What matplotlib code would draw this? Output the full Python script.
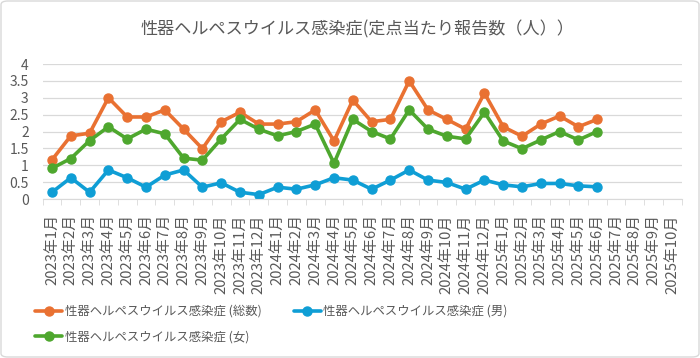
import matplotlib
matplotlib.use("Agg")
import matplotlib.pyplot as plt
from matplotlib.patches import FancyBboxPatch

plt.rcParams['font.family'] = ['Noto Sans CJK JP', 'DejaVu Sans']

months = [f"{y}年{m}月" for y in (2023, 2024, 2025) for m in range(1, 13)][:34]

total = [1.16, 1.87, 1.95, 3.0, 2.43, 2.43, 2.64, 2.07, 1.49, 2.29, 2.57, 2.22,
         2.22, 2.29, 2.64, 1.72, 2.93, 2.29, 2.36, 3.5, 2.64, 2.36, 2.07, 3.14,
         2.14, 1.86, 2.22, 2.46, 2.14, 2.36]
male = [0.2, 0.63, 0.2, 0.86, 0.63, 0.35, 0.71, 0.86, 0.35, 0.48, 0.2, 0.13,
        0.35, 0.29, 0.42, 0.63, 0.56, 0.29, 0.56, 0.86, 0.56, 0.49, 0.29, 0.56,
        0.42, 0.36, 0.46, 0.46, 0.39, 0.36]
female = [0.91, 1.2, 1.73, 2.14, 1.78, 2.07, 1.93, 1.21, 1.15, 1.78, 2.36, 2.07,
          1.87, 2.0, 2.22, 1.06, 2.36, 2.0, 1.78, 2.64, 2.07, 1.86, 1.78, 2.57,
          1.72, 1.49, 1.75, 2.0, 1.75, 2.0]

labels = ["性器ヘルペスウイルス感染症 (総数)", "性器ヘルペスウイルス感染症 (男)", "性器ヘルペスウイルス感染症 (女)"]
colors = ["#E97132", "#0F9ED5", "#4EA72E"]
title = "性器ヘルペスウイルス感染症(定点当たり報告数（人））"

W, H = 700, 358
fig = plt.figure(figsize=(W/100, H/100), dpi=100)
fig.patches.append(FancyBboxPatch((1/W, 1/H), 1 - 2/W, 1 - 2/H, boxstyle="round,pad=0,rounding_size=0.01",
                                  transform=fig.transFigure, fill=False, edgecolor="#D9D9D9", linewidth=1))

ax = fig.add_axes([42.6/W, 1 - 199/H, (681.8-42.6)/W, (199-64)/H])
x = list(range(len(months)))
handles = []
for data, c, lab in [(total, colors[0], labels[0]), (male, colors[1], labels[1]), (female, colors[2], labels[2])]:
    h, = ax.plot(x[:len(data)], data, color=c, lw=2.6, marker='o', ms=6.5, label=lab, solid_capstyle='round')
    handles.append(h)

ax.set_xlim(-0.5, len(months) - 0.5)
ax.set_ylim(0, 4)
ax.set_yticks([0, 0.5, 1, 1.5, 2, 2.5, 3, 3.5, 4])
ax.set_yticklabels(["0", "0.5", "1", "1.5", "2", "2.5", "3", "3.5", "4"])
ax.set_xticks(x)
ax.set_xticklabels(months, rotation=90, fontsize=10.7, color="#595959")
ax.set_xticks([i - 0.5 for i in range(len(months) + 1)], minor=True)
ax.tick_params(axis='x', which='major', length=0, pad=11)
ax.tick_params(axis='x', which='minor', length=4, color="#D9D9D9")
ax.tick_params(axis='y', length=0, labelsize=10, labelcolor="#595959", pad=10)
ax.grid(axis='y', color="#D9D9D9", lw=0.9)
ax.set_axisbelow(True)
for s in ['top', 'right', 'left']:
    ax.spines[s].set_visible(False)
ax.spines['bottom'].set_color("#D9D9D9")

fig.text(357/W, 1 - 29/H, title, ha='center', va='center', fontsize=12.3, color="#595959")

leg = fig.legend(handles=[handles[0], handles[2], handles[1]], labels=[labels[0], labels[2], labels[1]],
                 loc='upper left', bbox_to_anchor=(30/W, 1 - 300/H), ncol=2, frameon=False,
                 fontsize=8.9, labelcolor="#595959", handlelength=2.2, handletextpad=0.2,
                 columnspacing=2.6, borderaxespad=0, labelspacing=1.0)

fig.savefig("out.png", dpi=100)
